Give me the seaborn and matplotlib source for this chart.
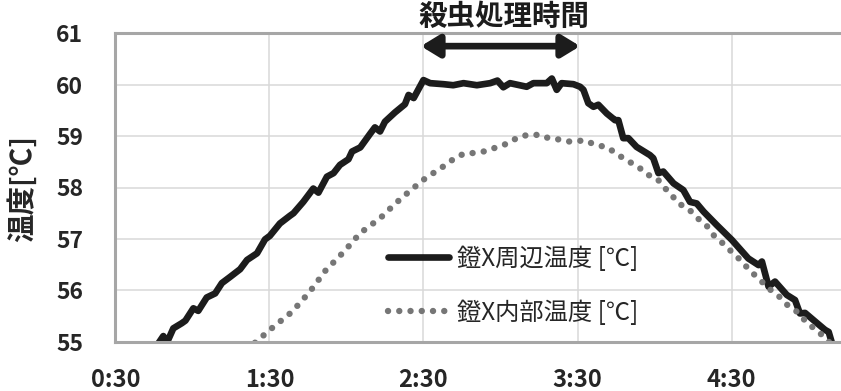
import matplotlib
matplotlib.use("Agg")
import numpy as np
import pandas as pd
import matplotlib.pyplot as plt
import seaborn as sns

# ── Data (elapsed time in minutes, temperature in °C) ─────────────────────────
outer_min = [46.8, 48.7, 50.0, 52.6, 55.9, 57.3, 60.4, 62.3, 65.6, 68.9,
             71.5, 74.7, 78.6, 81.3, 85.2, 88.3, 90.2, 94.1, 98.0, 99.4,
             103.2, 107.1, 109.1, 112.4, 115.0, 117.5, 120.8, 122.2, 125.4, 129.3,
             131.1, 133.1, 135.0, 138.9, 142.8, 144.2, 146.2, 150.0, 152.6, 157.8,
             161.6, 165.6, 170.8, 176.0, 178.8, 181.1, 183.7, 190.2, 192.8, 198.0,
             200.0, 201.9, 203.8, 208.4, 211.0, 212.3, 214.2, 216.2, 218.1, 221.4,
             224.6, 225.9, 227.8, 229.8, 233.0, 238.2, 239.5, 241.5, 243.4, 247.4,
             251.2, 253.8, 256.4, 259.1, 264.2, 270.1, 276.5, 280.5, 281.8, 284.4,
             286.9, 291.5, 294.7, 296.6, 298.6, 302.6, 306.4, 307.8, 309.1]
outer_temp = [54.97, 55.11, 54.97, 55.26, 55.36, 55.41, 55.65, 55.60, 55.86, 55.94,
              56.14, 56.26, 56.41, 56.59, 56.72, 56.99, 57.06, 57.30, 57.45, 57.50,
              57.72, 57.98, 57.90, 58.21, 58.28, 58.44, 58.55, 58.70, 58.78, 59.05,
              59.17, 59.09, 59.28, 59.46, 59.62, 59.80, 59.74, 60.09, 60.03, 60.01,
              59.99, 60.03, 59.99, 60.03, 60.08, 59.95, 60.03, 59.96, 60.03, 60.03,
              60.12, 59.90, 60.03, 60.01, 59.96, 59.90, 59.64, 59.57, 59.61, 59.44,
              59.31, 59.31, 58.96, 58.96, 58.79, 58.63, 58.57, 58.28, 58.31, 58.08,
              57.95, 57.72, 57.69, 57.53, 57.27, 56.98, 56.62, 56.49, 56.56, 56.07,
              56.17, 55.91, 55.81, 55.55, 55.56, 55.39, 55.23, 55.19, 54.97]

inner_min = [84.4, 91.6, 98.8, 105.7, 111.8, 119.2, 125.3, 133.3, 139.1, 145.1,
             151.5, 155.8, 163.0, 166.6, 169.4, 174.6, 178.8, 183.0, 186.9, 190.4,
             193.7, 196.7, 200.2, 204.9, 208.6, 212.5, 217.1, 221.7, 225.6, 229.5,
             234.0, 236.7, 240.9, 243.7, 246.0, 249.0, 253.3, 256.8, 260.1, 263.2,
             266.0, 269.8, 273.6, 277.0, 280.9, 284.6, 288.3, 291.8, 296.1, 299.4,
             303.0, 306.5, 308.0]
inner_temp = [54.98, 55.29, 55.58, 55.97, 56.38, 56.76, 57.11, 57.41, 57.69, 57.95,
              58.21, 58.34, 58.60, 58.67, 58.67, 58.71, 58.79, 58.86, 58.98, 59.02,
              59.03, 58.97, 58.97, 58.90, 58.89, 58.92, 58.83, 58.78, 58.64, 58.52,
              58.39, 58.26, 58.18, 58.00, 57.90, 57.70, 57.58, 57.40, 57.27, 57.06,
              56.94, 56.76, 56.58, 56.39, 56.21, 56.03, 55.89, 55.71, 55.56, 55.36,
              55.23, 55.07, 54.99]

tick_min = [30, 90, 150, 210, 270]
tick_labels = ["0:30", "1:30", "2:30", "3:30", "4:30"]

outer_label = "鐙X周辺温度 [℃]"
inner_label = "鐙X内部温度 [℃]"
treat_start, treat_end = 149, 211   # 殺虫処理時間 span (min)

# ── Style ─────────────────────────────────────────────────────────────────────
sns.set_theme(style="whitegrid")
plt.rcParams['font.family'] = ['Noto Sans CJK JP', 'DejaVu Sans']
TXT = "#262626"

fig = plt.figure(figsize=(8.41, 3.91), dpi=100)
ax = fig.add_axes([115.3 / 841, 49.3 / 391, 1 - 115.3 / 841, 308.4 / 391])

outer = pd.DataFrame({"t": outer_min, "T": outer_temp})
inner = pd.DataFrame({"t": inner_min, "T": inner_temp})

sns.lineplot(data=outer, x="t", y="T", ax=ax, color="#1c1c1c", lw=4.8,
             label=outer_label, solid_joinstyle="round")
sns.lineplot(data=inner, x="t", y="T", ax=ax, color="#767676", lw=4.6,
             linestyle=(0, (0.01, 1.75)), dash_capstyle="round", label=inner_label)

ax.set_xlim(30, 312.6)
ax.set_ylim(55, 61)
ax.set_xticks(tick_min)
ax.set_xticklabels(tick_labels)
ax.set_yticks(range(55, 62))
ax.set_xlabel("")
ax.set_ylabel("")
ax.grid(True, color="#d9d9d9", lw=1.1)
ax.tick_params(axis="x", length=0, pad=19, labelsize=17, labelcolor=TXT)
ax.tick_params(axis="y", length=0, pad=23, labelsize=16.5, labelcolor=TXT)
for lbl in ax.get_xticklabels() + ax.get_yticklabels():
    lbl.set_fontweight("bold")
for side in ["left", "top", "bottom"]:
    ax.spines[side].set_color("#a6a6a6")
    ax.spines[side].set_linewidth(2.2)
ax.spines["right"].set_visible(False)

fig.text(22 / 841, 1 - 188 / 391, "温度[℃]", rotation=90, ha="center", va="center",
         fontsize=20.5, fontweight="bold", color=TXT)

# treatment span arrow + label
ax.annotate("", xy=(treat_start, 60.75), xytext=(treat_end, 60.75),
            arrowprops=dict(arrowstyle="<|-|>,head_length=0.9,head_width=0.55",
                            color="#1c1c1c", lw=4.8, shrinkA=0, shrinkB=0),
            annotation_clip=False)
ax.text((treat_start + treat_end) / 2 + 1.5, 61.32, "殺虫処理時間", ha="center",
        va="center", fontsize=20.5, fontweight="bold", color="#1c1c1c", clip_on=False)

ax.legend(loc="upper left", bbox_to_anchor=(388 / 841, 1 - 246 / 391),
          bbox_transform=fig.transFigure, frameon=False, fontsize=17.5,
          handlelength=2.5, handletextpad=0.35, labelspacing=1.15,
          borderpad=0, borderaxespad=0, labelcolor=TXT)

fig.savefig("out.png", dpi=100)
plt.close(fig)
